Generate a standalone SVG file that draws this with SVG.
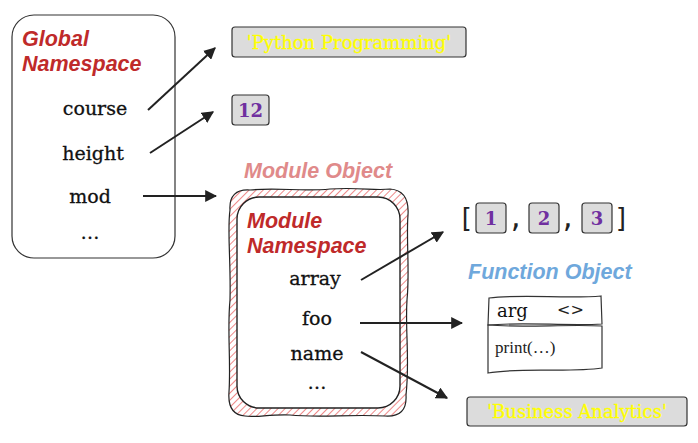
<svg xmlns="http://www.w3.org/2000/svg" width="698" height="443" viewBox="0 0 698 443">
<style>
.title{font-family:"Liberation Sans",Arial,sans-serif;font-weight:bold;font-style:italic;font-size:21.5px}
.red{fill:#bf2a2a}
.name{font-family:"DejaVu Serif",serif;font-size:19px;fill:#111;stroke:#111;stroke-width:0.3;text-anchor:middle}
.box{fill:#dcdcdc;stroke:#333;stroke-width:1.2}
.ytxt{font-family:"DejaVu Serif",serif;font-size:18px;fill:#ffff00;stroke:#ffff00;stroke-width:0.3;text-anchor:middle}
.num{font-family:"DejaVu Serif",serif;font-weight:bold;font-size:18px;fill:#7030a0;text-anchor:middle}
.conn{stroke:#222;stroke-width:2;fill:none;marker-end:url(#arr)}
.brk{font-family:"DejaVu Sans Mono",monospace;font-size:26px;fill:#222}
</style>
<defs>
<marker id="arr" viewBox="0 0 10 10" refX="9" refY="5" markerWidth="6" markerHeight="6" markerUnits="strokeWidth" orient="auto">
<path d="M0,0 L10,5 L0,10 z" fill="#222"/>
</marker>
<pattern id="hatch" width="5" height="5" patternUnits="userSpaceOnUse" patternTransform="rotate(45)">
<rect width="5" height="5" fill="#fff"/>
<line x1="0" y1="0" x2="0" y2="5" stroke="#e88" stroke-width="2"/>
</pattern>
</defs>
<rect width="698" height="443" fill="#fff"/>

<g id="global">
<rect x="12" y="15" width="163" height="243" rx="22" fill="#fff" stroke="#333" stroke-width="1.2"/>
<text class="title red" x="22" y="46">Global</text>
<text class="title red" x="22" y="71">Namespace</text>
<text class="name" x="95" y="115">course</text>
<text class="name" x="93" y="160">height</text>
<text class="name" x="90" y="203">mod</text>
<text class="name" x="90" y="239">…</text>
</g>

<g id="python-str">
<rect class="box" x="232" y="27" width="234" height="30" rx="3"/>
<text class="ytxt" x="349" y="49">'Python Programming'</text>
</g>

<g id="num12">
<rect class="box" x="232" y="95" width="37" height="30" rx="3"/>
<text class="num" x="250.5" y="117">12</text>
</g>

<g id="module">
<text class="title" x="244" y="178" fill="#e08a8a">Module Object</text>
<path d="M250,190 C280,187 300,192 330,189 C360,187 375,191 390,189 C404,190 409,200 408,215 C406,240 410,270 407,300 C405,330 410,360 406,395 C407,410 400,417 385,416 C350,414 320,418 290,415 C270,414 255,418 245,416 C232,415 228,405 229,392 C231,360 227,330 230,300 C231,260 227,230 230,210 C229,196 236,189 250,190 Z" fill="url(#hatch)" stroke="#222" stroke-width="1.2"/>
<rect x="237" y="197" width="163" height="211" rx="22" fill="#fff" stroke="#222" stroke-width="1.4"/>
<text class="title red" x="247" y="228">Module</text>
<text class="title red" x="247" y="253">Namespace</text>
<text class="name" x="315" y="285">array</text>
<text class="name" x="317" y="325">foo</text>
<text class="name" x="317" y="360">name</text>
<text class="name" x="317" y="389">…</text>
</g>

<g id="list">
<text class="brk" x="458" y="227">[</text>
<rect class="box" x="476" y="203" width="30" height="30" rx="3"/>
<text class="num" x="491" y="225">1</text>
<text class="brk" x="508" y="227">,</text>
<rect class="box" x="529" y="203" width="30" height="30" rx="3"/>
<text class="num" x="544" y="225">2</text>
<text class="brk" x="560" y="227">,</text>
<rect class="box" x="582" y="203" width="30" height="30" rx="3"/>
<text class="num" x="597" y="225">3</text>
<text class="brk" x="614" y="227">]</text>
</g>

<g id="function">
<text class="title" x="468" y="279" fill="#6fa8dc">Function Object</text>
<path d="M489,298 C520,294 570,299 601,296 L602,324 C570,326 520,322 488,325 Z" fill="#fff" stroke="#333" stroke-width="1.2"/>
<path d="M488,325 C520,328 570,324 602,326 L602,368 C570,373 520,367 488,373 Z" fill="#fff" stroke="#333" stroke-width="1.2"/>
<text x="497" y="317" font-family="DejaVu Serif,serif" font-size="18" fill="#111">arg</text>
<text x="557" y="315" font-family="DejaVu Sans,sans-serif" font-size="16" fill="#222">&lt;&gt;</text>
<text x="495" y="353" font-family="Liberation Serif,serif" font-size="17" fill="#222">print(…)</text>
</g>

<g id="business-str">
<rect class="box" x="467" y="397" width="220" height="29" rx="3"/>
<text class="ytxt" x="577" y="418">'Business Analytics'</text>
</g>

<g id="connectors">
<line class="conn" x1="148" y1="110" x2="215" y2="48"/>
<line class="conn" x1="150" y1="153" x2="213" y2="112"/>
<line class="conn" x1="143" y1="196" x2="216" y2="196"/>
<line class="conn" x1="361" y1="280" x2="443" y2="232"/>
<line class="conn" x1="360" y1="323" x2="462" y2="323"/>
<line class="conn" x1="361" y1="352" x2="447" y2="398"/>
</g>
</svg>
